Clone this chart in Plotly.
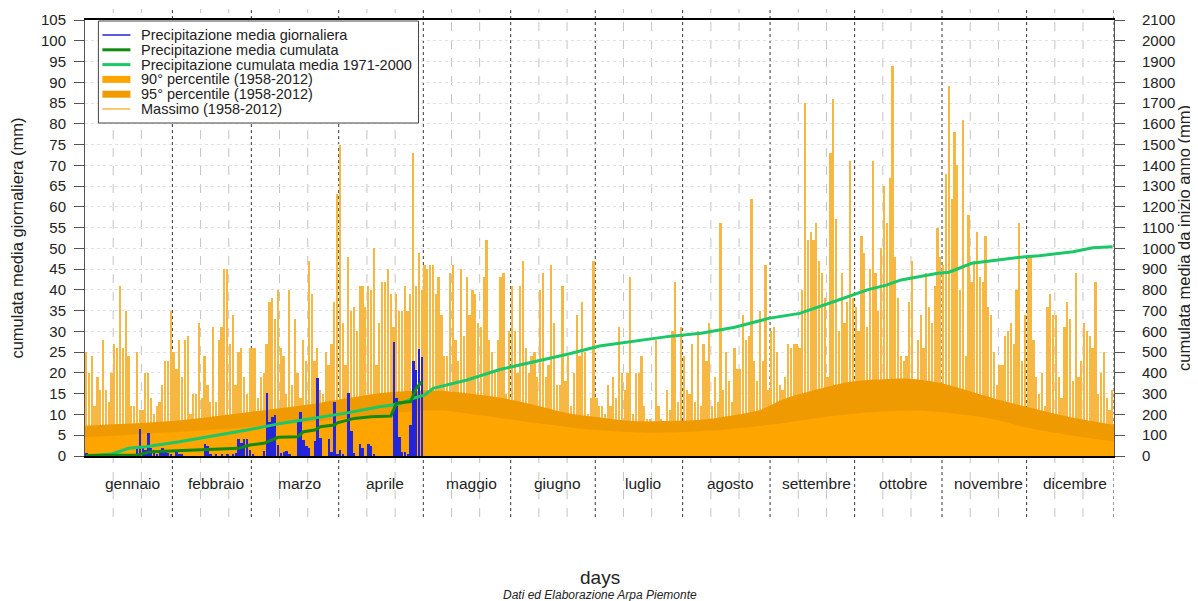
import plotly.graph_objects as go

# ---------------- data ----------------
month_names = ["gennaio", "febbraio", "marzo", "aprile", "maggio", "giugno",
               "luglio", "agosto", "settembre", "ottobre", "novembre", "dicembre"]
month_lengths = [31, 28, 31, 30, 31, 30, 31, 31, 30, 31, 30, 31]

# Massimo (1958-2012), daily maximum, mm
max_gen = [25, 20, 24, 12, 19, 16, 28, 16, 13, 20, 27, 26, 41, 26, 35, 24, 12, 12, 25, 11,
           11, 20, 20, 14, 10, 12, 13, 17, 23, 23, 35]
max_feb = [25, 21, 28, 19, 28, 29, 10, 15, 15, 32, 14, 24, 17, 13, 31, 13, 28, 31, 45, 45,
           27, 34, 17, 25, 26, 19, 15, 26]
max_mar = [26, 26, 14, 19, 20, 27, 37, 38, 33, 40, 26, 24, 15, 40, 17, 33, 20, 14, 28, 23,
           47, 39, 23, 26, 16, 15, 25, 22, 27, 37, 63]
max_apr = [75, 32, 22, 48, 35, 36, 30, 41, 41, 36, 41, 40, 50, 22, 32, 42, 42, 45, 39, 31,
           39, 35, 35, 41, 35, 39, 73, 41, 49, 40]
max_mag = [46, 45, 46, 46, 39, 43, 34, 24, 24, 44, 46, 28, 23, 45, 29, 43, 34, 40, 39, 32,
           31, 43, 52, 28, 25, 20, 28, 43, 44, 15, 30]
max_giu = [41, 30, 20, 41, 47, 26, 20, 24, 25, 19, 40, 44, 19, 22, 46, 32, 17, 17, 41, 18,
           24, 12, 20, 34, 24, 37, 25, 10, 14, 47]
max_lug = [14, 12, 12, 10, 17, 12, 19, 14, 31, 20, 16, 20, 43, 10, 20, 20, 24, 12, 9, 9,
           8, 28, 12, 9, 8, 16, 11, 30, 42, 13, 31]
max_ago = [24, 16, 15, 27, 13, 30, 12, 27, 23, 32, 12, 19, 13, 56, 16, 25, 18, 13, 26, 21,
           21, 34, 28, 29, 62, 23, 18, 35, 23, 46, 16]
max_set = [30, 31, 25, 17, 16, 19, 27, 26, 27, 27, 26, 40, 85, 52, 54, 52, 56, 47, 44, 38,
           19, 73, 86, 57, 30, 44, 32, 37, 71, 38]
max_ott = [36, 30, 53, 49, 31, 45, 71, 44, 35, 50, 65, 56, 67, 94, 48, 38, 24, 23, 24, 37,
           47, 14, 28, 34, 26, 44, 36, 32, 41, 55, 48]
max_nov = [46, 68, 89, 62, 78, 70, 40, 81, 24, 58, 42, 47, 54, 43, 42, 53, 36, 34, 25, 17,
           22, 22, 29, 30, 32, 27, 40, 56, 23, 34]
max_dic = [48, 48, 28, 19, 15, 20, 12, 36, 39, 34, 34, 19, 14, 31, 37, 33, 18, 44, 19, 23,
           32, 30, 29, 26, 42, 15, 20, 25, 14, 11, 16]

# Precipitazione media giornaliera (current year, Jan-Apr), mm
rain_gen = [0.8, 0.5, 0, 0, 0, 0, 0, 0, 0, 0.2, 0, 0, 0.3, 0.3, 0, 0, 0, 0, 2.2, 6.5,
            2.2, 1.5, 5.6, 2.0, 1.5, 0.5, 1.0, 2.0, 1.2, 0.7, 0.3]
rain_feb = [0, 1.2, 0.5, 0.3, 0, 0, 0, 0, 0, 0, 0, 2.9, 2.5, 0.4, 0, 0.5, 0, 0.4, 0, 0.6,
            0, 0.3, 0.8, 4.0, 3.2, 4.0, 4.0, 1.4]
rain_mar = [0.5, 0, 0, 0, 1.2, 15.1, 8.3, 9.3, 9.9, 2.7, 0.7, 0.9, 1.1, 0.5, 0, 0, 8.3, 10.5,
            3.9, 2.3, 1.9, 0, 3.5, 18.9, 4.3, 0, 0, 4.1, 0.9, 12.9, 0.5]
rain_apr = [1.5, 0.5, 0, 15.1, 6.1, 0.8, 0, 3.0, 1.9, 0, 2.9, 2.5, 0.5, 0, 0, 0, 0, 0, 0,
            27.5, 13.9, 4.6, 0.9, 0.9, 0.5, 7.5, 22.9, 20.7, 25.8, 23.9]

# Precipitazione media cumulata (right axis, mm), read at sample days
cum_days = [1, 19, 24, 32, 43, 55, 59, 64, 69, 76, 78, 82, 84, 89, 90, 94, 96, 102, 109,
            111, 116, 117, 118, 120]
cum_vals = [2, 5, 21, 26, 32, 37, 53, 61, 90, 93, 117, 125, 141, 149, 160, 173, 181, 189,
            193, 254, 262, 294, 326, 358]

# Precipitazione cumulata media 1971-2000 (right axis, mm)
clim_days = [1, 10, 16, 22, 34, 46, 58, 70, 81, 94, 105, 112, 117, 121, 124, 136, 148, 160,
             172, 183, 195, 207, 219, 231, 243, 254, 266, 278, 285, 290, 303, 307, 315, 327,
             334, 339, 351, 358, 365]
clim_vals = [0, 10, 37, 45, 69, 96, 125, 157, 181, 209, 237, 250, 278, 294, 326, 366, 418,
             454, 491, 530, 554, 575, 591, 620, 663, 687, 743, 800, 824, 848, 880, 885, 928,
             949, 960, 965, 984, 1003, 1008]

# 95° percentile (1958-2012), mm
p95_days = [0.5, 31, 59, 80, 105, 118, 127, 136, 148, 160, 172, 184, 195, 207, 219, 231, 240,
            248, 260, 272, 284, 293, 303, 315, 327, 339, 351, 365.5]
p95_vals = [7.3, 8.4, 10.6, 12.4, 15.1, 15.7, 15.7, 15.1, 14.0, 12.3, 10.3, 9.2, 8.4, 8.4,
            8.7, 9.9, 11.1, 13.6, 16.0, 17.9, 18.5, 18.6, 17.7, 15.5, 13.1, 11.1, 9.2, 7.5]

# 90° percentile (1958-2012), mm
p90_days = [0.5, 31, 59, 90, 110, 125, 140, 160, 181, 200, 220, 243, 265, 285, 300, 320, 335,
            350, 365.5]
p90_vals = [4.5, 5.7, 7.0, 8.8, 10.3, 11.0, 9.9, 8.0, 6.3, 5.6, 6.0, 7.5, 9.6, 10.8, 10.8,
            9.2, 6.8, 5.0, 3.5]

legend_labels = ["Precipitazione media giornaliera", "Precipitazione media cumulata",
                 "Precipitazione cumulata media 1971-2000", "90° percentile (1958-2012)",
                 "95° percentile (1958-2012)", "Massimo (1958-2012)"]

# ---------------- styling ----------------
C_BLUE = "#2424D8"
C_CUM = "#128A12"
C_CLIM = "#1BC766"
C_P90 = "#FFA500"
C_P95 = "#EE9A00"
C_MAX = "#F6B843"
FONT = "Liberation Sans, Arial, Helvetica, sans-serif"
TXT = "#222222"

# the page body has an 8px margin: size the figure so the plot lands where the original is
PAGE_OFF = 8
FIG_W, FIG_H = 1198 - PAGE_OFF, 601 - PAGE_OFF
M_L, M_T = 85 - PAGE_OFF, 20 - PAGE_OFF
PLOT_W, PLOT_H = 1028.6, 436
M_R = FIG_W - M_L - PLOT_W
M_B = FIG_H - M_T - PLOT_H

massimo = (max_gen + max_feb + max_mar + max_apr + max_mag + max_giu + max_lug + max_ago
           + max_set + max_ott + max_nov + max_dic)
days = list(range(1, len(massimo) + 1))
rain = rain_gen + rain_feb + rain_mar + rain_apr
rain_days = list(range(1, len(rain) + 1))

fig = go.Figure()
fig.add_trace(go.Bar(x=days, y=massimo, width=0.62, marker=dict(color=C_MAX, line=dict(width=0)),
                     yaxis="y", showlegend=False, name=legend_labels[5]))
fig.add_trace(go.Scatter(x=p95_days, y=p95_vals, mode="lines", fill="tozeroy", fillcolor=C_P95,
                         line=dict(width=0, shape="spline", smoothing=0.9, color=C_P95),
                         yaxis="y", showlegend=False, name=legend_labels[4]))
fig.add_trace(go.Scatter(x=p90_days, y=p90_vals, mode="lines", fill="tozeroy", fillcolor=C_P90,
                         line=dict(width=0, shape="spline", smoothing=0.9, color=C_P90),
                         yaxis="y", showlegend=False, name=legend_labels[3]))
fig.add_trace(go.Bar(x=rain_days, y=rain, width=0.85, marker=dict(color=C_BLUE, line=dict(width=0)),
                     yaxis="y2", showlegend=False, name=legend_labels[0]))
fig.add_trace(go.Scatter(x=clim_days, y=clim_vals, mode="lines", line=dict(color=C_CLIM, width=3),
                         yaxis="y3", showlegend=False, name=legend_labels[2]))
fig.add_trace(go.Scatter(x=cum_days, y=cum_vals, mode="lines", line=dict(color=C_CUM, width=3),
                         yaxis="y3", showlegend=False, name=legend_labels[1]))

shapes = []
annotations = []

# month separators and decade lines
start = 1
for name, ln in zip(month_names, month_lengths):
    end = start + ln - 1
    for off in (9.5, 19.5):
        shapes.append(dict(type="line", xref="x", yref="paper", x0=start + off, x1=start + off,
                           y0=-0.14, y1=1.025, layer="below",
                           line=dict(color="#c4c4c4", width=1, dash="dash")))
    shapes.append(dict(type="line", xref="x", yref="paper", x0=end + 0.5, x1=end + 0.5,
                       y0=-0.14, y1=1.025, layer="below",
                       line=dict(color="#333333", width=1, dash="dot")))
    annotations.append(dict(x=(start + end) / 2 + 1.5, y=-0.062, xref="x", yref="paper",
                            text=name, showarrow=False, font=dict(size=15.5, color=TXT, family=FONT),
                            xanchor="center", yanchor="middle"))
    start = end + 1

# legend box drawn like the original (compact rows)
def px_x(px):
    return (px - 84.6) / PLOT_W

def px_y(py):
    return (456 - py) / PLOT_H

shapes.append(dict(type="rect", xref="paper", yref="paper", x0=px_x(98), x1=px_x(418),
                   y0=px_y(123), y1=px_y(21), fillcolor="white",
                   line=dict(color="#444444", width=1), layer="above"))
legend_styles = [(C_BLUE, 1.5), (C_CUM, 3), (C_CLIM, 3), (C_P90, 7), (C_P95, 7), (C_MAX, 1.5)]
for i, (lab, (col, w)) in enumerate(zip(legend_labels, legend_styles)):
    yy = px_y(35 + i * 14.8)
    shapes.append(dict(type="line", xref="paper", yref="paper", x0=px_x(102), x1=px_x(130),
                       y0=yy, y1=yy, line=dict(color=col, width=w), layer="above"))
    annotations.append(dict(x=px_x(139), y=yy, xref="paper", yref="paper", text=lab,
                            showarrow=False, xanchor="left", yanchor="middle",
                            font=dict(size=14.5, color=TXT, family=FONT)))

annotations.append(dict(x=0.5, y=px_y(577), xref="paper", yref="paper", text="days",
                        showarrow=False, font=dict(size=19, color=TXT, family=FONT),
                        xanchor="center", yanchor="middle"))
annotations.append(dict(x=0.5, y=px_y(594.5), xref="paper", yref="paper",
                        text="<i>Dati ed Elaborazione Arpa Piemonte</i>",
                        showarrow=False, font=dict(size=12, color=TXT, family=FONT),
                        xanchor="center", yanchor="middle"))

fig.update_layout(
    width=FIG_W, height=FIG_H,
    margin=dict(l=M_L, r=M_R, t=M_T, b=M_B, autoexpand=False),
    paper_bgcolor="white", plot_bgcolor="rgba(0,0,0,0)",
    barmode="overlay", bargap=0, showlegend=False,
    font=dict(family=FONT, color=TXT),
    shapes=shapes, annotations=annotations,
    xaxis=dict(range=[0.5, 365.5], showticklabels=False, ticks="", showgrid=False,
               zeroline=False, showline=True, linecolor="black", linewidth=1.5, mirror=True),
    yaxis=dict(range=[0, 105], tick0=0, dtick=5, ticks="outside", ticklen=10, tickcolor="#555",
               showline=True, linecolor="#555", linewidth=1, showgrid=True,
               gridcolor="#e2e2e2", griddash="dot", gridwidth=1, zeroline=False,
               tickfont=dict(size=15, color=TXT), ticklabelstandoff=5,
               title=dict(text="cumulata media giornaliera (mm)", font=dict(size=16.5, color=TXT),
                          standoff=18)),
    yaxis2=dict(range=[0, 105], overlaying="y", visible=False),
    yaxis3=dict(range=[0, 2100], overlaying="y", side="right", tick0=0, dtick=100,
                ticks="outside", ticklen=10, tickcolor="#555", showline=True, linecolor="#555",
                linewidth=1, showgrid=False, zeroline=False,
                tickfont=dict(size=15, color=TXT), ticklabelstandoff=14,
                title=dict(text="cumulata media da inizio anno (mm)",
                           font=dict(size=16.5, color=TXT), standoff=4)),
)

fig.write_html("out.html")
